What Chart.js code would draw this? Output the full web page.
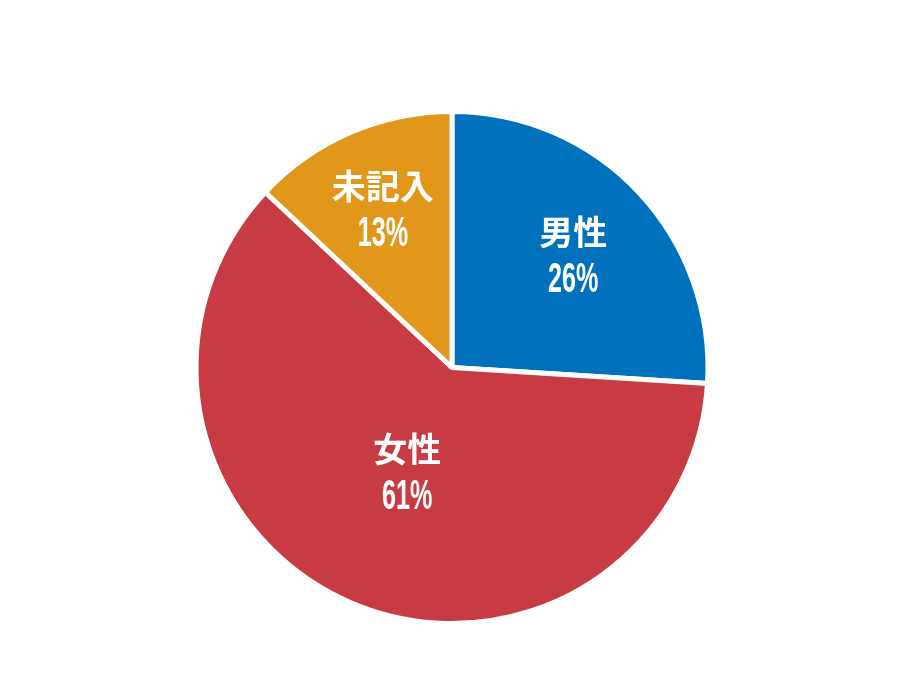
<!DOCTYPE html>
<html>
<head>
<meta charset="utf-8">
<script src="https://cdn.jsdelivr.net/npm/chart.js@4"></script>
<style>
  html, body { margin: 0; padding: 0; background: #fff; }
  #wrap { width: 921px; height: 690px; position: relative; }
</style>
</head>
<body>
<div id="wrap"><canvas id="chart"></canvas></div>
<script>
// Data
const categories = ['男性', '女性', '未記入'];
const shares = [26, 61, 13];
const sliceColors = ['#0072BD', '#C93B43', '#E0971A'];

// Label distance from the centre, as a fraction of the radius, per slice
const labelRadius = [0.65, 0.44, 0.68];

// Draws the two-line labels inside each slice
const sliceLabels = {
  id: 'sliceLabels',
  afterDatasetsDraw(chart) {
    const ctx = chart.ctx;
    const meta = chart.getDatasetMeta(0);
    meta.data.forEach((arc, i) => {
      const { x, y, startAngle, endAngle, outerRadius } = arc.getProps(
        ['x', 'y', 'startAngle', 'endAngle', 'outerRadius'], true);
      const mid = (startAngle + endAngle) / 2;
      const r = outerRadius * labelRadius[i];
      const cx = x + Math.cos(mid) * r;
      const cy = y + Math.sin(mid) * r + 2;

      ctx.save();
      ctx.fillStyle = '#fff';
      ctx.textAlign = 'center';
      ctx.textBaseline = 'middle';
      ctx.font = 'bold 34px "Noto Sans CJK JP"';
      ctx.fillText(categories[i], cx, cy - 24);

      // condensed digits
      ctx.translate(cx, cy + 24);
      ctx.scale(0.6, 1);
      ctx.font = 'bold 42px "Liberation Sans"';
      ctx.fillText(shares[i] + '%', 0, 1);
      ctx.restore();
    });
  }
};

new Chart(document.getElementById('chart'), {
  type: 'pie',
  data: {
    labels: categories,
    datasets: [{
      data: shares,
      backgroundColor: sliceColors,
      borderColor: '#ffffff',
      borderWidth: 5
    }]
  },
  options: {
    responsive: true,
    maintainAspectRatio: false,
    animation: false,
    layout: { padding: { top: 109, bottom: 64, left: 193, right: 210 } },
    plugins: {
      legend: { display: false },
      tooltip: { enabled: false }
    }
  },
  plugins: [sliceLabels]
});
</script>
</body>
</html>
